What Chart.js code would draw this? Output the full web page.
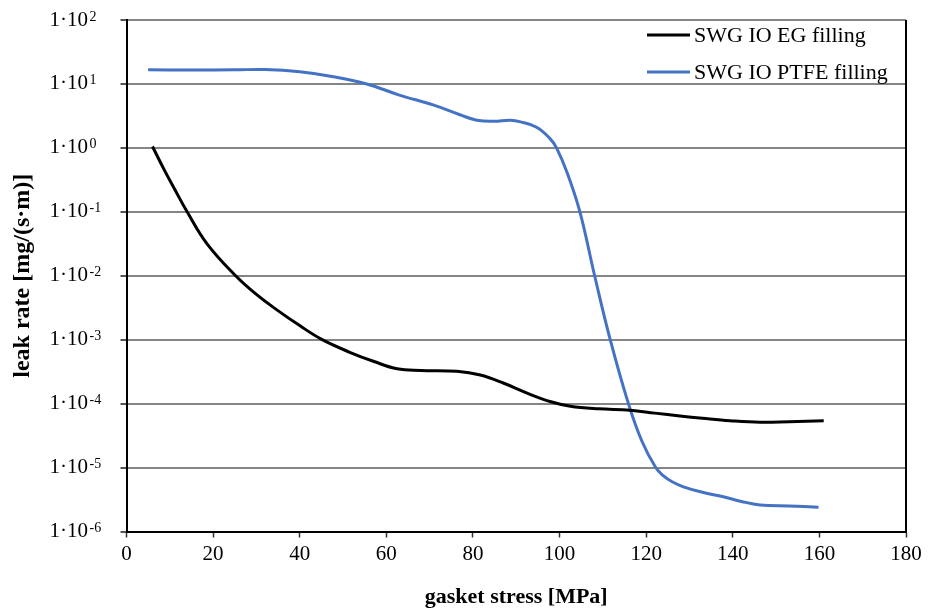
<!DOCTYPE html>
<html>
<head>
<meta charset="utf-8">
<script src="https://cdn.jsdelivr.net/npm/chart.js@4"></script>
<style>
  body { margin: 0; background: #fff; }
</style>
</head>
<body>
<canvas id="leakChart" width="934" height="611"></canvas>
<script>
// SWG IO EG filling
const egStress = [6, 8.6, 11, 14, 18.6, 25.2, 30, 34.8, 40, 45.2, 51.7, 57, 62.5, 68, 76.3, 81.7, 87, 93.2, 98, 102.5, 109, 116.3, 122, 127.8, 133, 139.4, 146.3, 153, 161];
const egLeak = [1.05, 0.47, 0.234, 0.1, 0.0316, 0.01, 5.1e-3, 2.9e-3, 1.66e-3, 1e-3, 6.3e-4, 4.6e-4, 3.5e-4, 3.3e-4, 3.2e-4, 2.8e-4, 2.1e-4, 1.4e-4, 1.07e-4, 9.1e-5, 8.3e-5, 7.9e-5, 7.1e-5, 6.4e-5, 5.9e-5, 5.4e-5, 5.1e-5, 5.2e-5, 5.4e-5];

// SWG IO PTFE filling
const ptfeStress = [5, 15, 25, 32, 40, 47.8, 55.5, 63, 70.8, 77, 80.9, 85, 88.6, 91, 94.7, 97.7, 99.3, 101.8, 104.7, 108.1, 111.7, 115.9, 119, 122.2, 124, 126, 128.6, 133, 137.8, 142, 146.3, 153, 159.8];
const ptfeLeak = [16.6, 16.5, 16.6, 16.8, 15.5, 13, 10, 6.7, 4.7, 3.3, 2.7, 2.6, 2.7, 2.55, 2.1, 1.42, 1.0, 0.40, 0.1, 0.01, 1e-3, 1e-4, 2.6e-5, 1e-5, 7.4e-6, 6.0e-6, 5.0e-6, 4.1e-6, 3.5e-6, 2.95e-6, 2.6e-6, 2.5e-6, 2.4e-6];

const seriesLabels = ['SWG IO EG filling', 'SWG IO PTFE filling'];
const yExponents = [-6, -5, -4, -3, -2, -1, 0, 1, 2];
const xTitle = 'gasket stress [MPa]';
const yTitle = 'leak rate [mg/(s·m)]';

const BLACK = '#000000';
const BLUE = '#4472C4';
const SERIF = '"Liberation Serif", "Times New Roman", serif';

const toPoints = (xs, ys) => xs.map((x, i) => ({ x: x, y: ys[i] }));

Chart.defaults.font.family = SERIF;
Chart.defaults.font.size = 21;
Chart.defaults.color = '#000';

// y tick labels as 1·10^n with a raised exponent, legend inside the plot, right frame line
const chartExtras = {
    id: 'chartExtras',
    afterDraw(chart) {
        const ctx = chart.ctx;
        const area = chart.chartArea;
        const yScale = chart.scales.y;
        ctx.save();

        ctx.fillStyle = '#000';
        yScale.ticks.forEach((t) => {
            const py = yScale.getPixelForValue(t.value);
            const exp = Math.round(Math.log10(t.value));
            ctx.font = '21px ' + SERIF;
            ctx.textAlign = 'right';
            ctx.textBaseline = 'middle';
            ctx.fillText('1·10', yScale.right - 38.5, py);
            ctx.font = '14px ' + SERIF;
            ctx.textAlign = 'left';
            ctx.textBaseline = 'alphabetic';
            ctx.fillText(String(exp), yScale.right - 37, py + 0.5);
        });

        ctx.strokeStyle = '#000';
        ctx.lineWidth = 2;
        ctx.beginPath();
        ctx.moveTo(area.right, area.top);
        ctx.lineTo(area.right, area.bottom);
        ctx.stroke();

        ctx.font = '22px ' + SERIF;
        ctx.textBaseline = 'middle';
        ctx.textAlign = 'left';
        chart.data.datasets.forEach((ds, i) => {
            const y = area.top + 15 + i * 37;
            ctx.strokeStyle = ds.borderColor;
            ctx.lineWidth = 3;
            ctx.beginPath();
            ctx.moveTo(area.right - 259, y);
            ctx.lineTo(area.right - 216, y);
            ctx.stroke();
            ctx.fillStyle = '#000';
            ctx.fillText(ds.label, area.right - 212, y + 1);
        });
        ctx.restore();
    }
};

const config = {
    type: 'line',
    data: {
        datasets: [
            {
                label: seriesLabels[0],
                data: toPoints(egStress, egLeak),
                borderColor: BLACK,
                backgroundColor: BLACK,
                borderWidth: 3,
                pointRadius: 0,
                tension: 0.4,
            },
            {
                label: seriesLabels[1],
                data: toPoints(ptfeStress, ptfeLeak),
                borderColor: BLUE,
                backgroundColor: BLUE,
                borderWidth: 3,
                pointRadius: 0,
                tension: 0.4,
            }
        ]
    },
    options: {
        responsive: false,
        animation: false,
        layout: { padding: { top: 20, right: 28, left: 0, bottom: 0 } },
        plugins: {
            legend: { display: false },
            tooltip: { enabled: false }
        },
        scales: {
            x: {
                type: 'linear',
                min: 0,
                max: 180,
                ticks: { stepSize: 20, padding: 4 },
                grid: { drawOnChartArea: false, tickLength: 6, tickColor: '#333', tickWidth: 1.5 },
                border: { color: '#000', width: 2 },
                title: { display: true, text: xTitle, font: { size: 22, weight: 'bold' }, padding: { top: 0, bottom: 0 } },
                afterFit: (scale) => { scale.height = 79.5; }
            },
            y: {
                type: 'logarithmic',
                min: 1e-6,
                max: 1e2,
                afterBuildTicks: (scale) => {
                    scale.ticks = yExponents.map(e => ({ value: Math.pow(10, e) }));
                },
                ticks: { display: false },
                grid: { color: '#858585', lineWidth: 2, tickLength: 6, tickColor: '#555' },
                border: { color: '#000', width: 2 },
                title: { display: true, text: yTitle, font: { size: 24, weight: 'bold' }, padding: { top: 8, bottom: 0 } },
                afterFit: (scale) => { scale.width = 126.5; }
            }
        }
    },
    plugins: [chartExtras]
};

new Chart(document.getElementById('leakChart'), config);
</script>
</body>
</html>
